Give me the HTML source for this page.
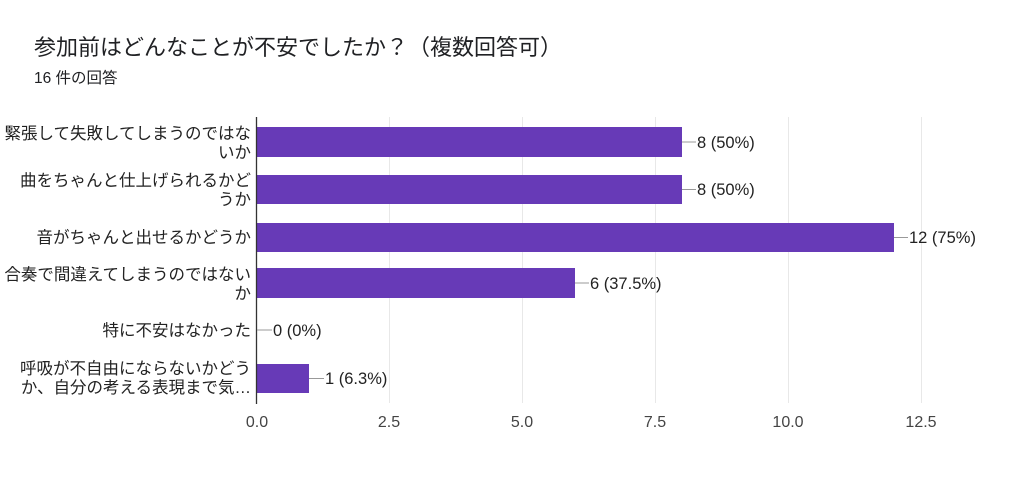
<!DOCTYPE html>
<html><head><meta charset="utf-8"><style>
body{margin:0;background:#fff;}
svg text{font-family:"Liberation Sans","Noto Sans CJK JP",sans-serif;}
</style></head><body>
<svg width="1024" height="487" xmlns="http://www.w3.org/2000/svg">
<rect width="1024" height="487" fill="#fff"/>
<text x="34" y="55" font-size="22" fill="#202124">参加前はどんなことが不安でしたか？（複数回答可）</text>
<text x="34" y="83" font-size="15.5" fill="#202124">16 件の回答</text>
<g stroke="#e8e8e8" stroke-width="1">
<line x1="389.5" y1="117" x2="389.5" y2="403"/>
<line x1="522.5" y1="117" x2="522.5" y2="403"/>
<line x1="655.5" y1="117" x2="655.5" y2="403"/>
<line x1="788.5" y1="117" x2="788.5" y2="403"/>
<line x1="921.5" y1="117" x2="921.5" y2="403"/>
</g>
<g fill="#673ab7">
<rect x="257" y="127" width="425" height="30"/>
<rect x="257" y="175" width="425" height="29"/>
<rect x="257" y="223" width="637" height="29"/>
<rect x="257" y="268" width="318" height="30"/>
<rect x="257" y="364" width="52" height="29"/>
</g>
<line x1="256.5" y1="117" x2="256.5" y2="404" stroke="#333" stroke-width="1.3"/>
<g stroke="#999" stroke-width="1">
<line x1="682" y1="142" x2="696" y2="142"/>
<line x1="682" y1="189.5" x2="696" y2="189.5"/>
<line x1="894" y1="237.5" x2="908" y2="237.5"/>
<line x1="575" y1="283" x2="589" y2="283"/>
<line x1="257" y1="330" x2="272" y2="330"/>
<line x1="309" y1="378.5" x2="324" y2="378.5"/>
</g>
<g font-size="16.5" fill="#222">
<text x="697" y="148">8 (50%)</text>
<text x="697" y="195">8 (50%)</text>
<text x="909" y="243">12 (75%)</text>
<text x="590" y="289">6 (37.5%)</text>
<text x="273" y="336">0 (0%)</text>
<text x="325" y="384">1 (6.3%)</text>
</g>
<g font-size="16.5" fill="#222" text-anchor="end">
<text x="251" y="139">緊張して失敗してしまうのではな</text>
<text x="251" y="158">いか</text>
<text x="251" y="186">曲をちゃんと仕上げられるかど</text>
<text x="251" y="205">うか</text>
<text x="251" y="243">音がちゃんと出せるかどうか</text>
<text x="251" y="280">合奏で間違えてしまうのではない</text>
<text x="251" y="299">か</text>
<text x="251" y="336">特に不安はなかった</text>
<text x="251" y="374">呼吸が不自由にならないかどう</text>
<text x="251" y="393">か、自分の考える表現まで気…</text>
</g>
<g font-size="16" fill="#444" text-anchor="middle">
<text x="257" y="427">0.0</text>
<text x="389" y="427">2.5</text>
<text x="522" y="427">5.0</text>
<text x="655" y="427">7.5</text>
<text x="788" y="427">10.0</text>
<text x="921" y="427">12.5</text>
</g>
</svg>
</body></html>
